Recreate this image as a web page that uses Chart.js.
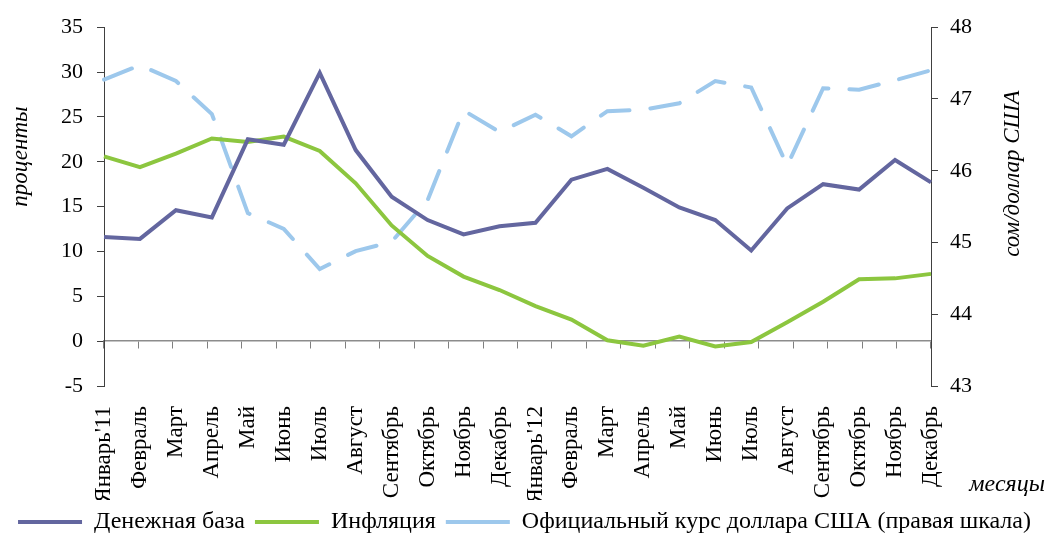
<!DOCTYPE html>
<html>
<head>
<meta charset="utf-8">
<script src="https://cdn.jsdelivr.net/npm/chart.js@4.4.1/dist/chart.umd.min.js"></script>
<style>
  html, body { margin: 0; padding: 0; background: #fff; }
  #wrap { width: 1049px; height: 534px; }
</style>
</head>
<body>
<div id="wrap"><canvas id="chart"></canvas></div>
<script>
// months on the x axis
const months = ["Январь'11", 'Февраль', 'Март', 'Апрель', 'Май', 'Июнь', 'Июль', 'Август', 'Сентябрь', 'Октябрь', 'Ноябрь', 'Декабрь',
  "Январь'12", 'Февраль', 'Март', 'Апрель', 'Май', 'Июнь', 'Июль', 'Август', 'Сентябрь', 'Октябрь', 'Ноябрь', 'Декабрь'];

// percent, left axis
const moneyBase = [11.6, 11.4, 14.6, 13.8, 22.5, 21.9, 29.9, 21.3, 16.1, 13.5, 11.9, 12.8,
  13.2, 18.0, 19.2, 17.1, 14.9, 13.5, 10.1, 14.8, 17.5, 16.9, 20.2, 17.7];
const inflation = [20.6, 19.4, 20.9, 22.6, 22.2, 22.8, 21.2, 17.6, 12.9, 9.5, 7.2, 5.7,
  3.9, 2.4, 0.1, -0.5, 0.5, -0.6, -0.1, 2.1, 4.4, 6.9, 7.0, 7.5];

// som per US dollar, right axis
const usdRate = [47.27, 47.47, 47.25, 46.79, 45.41, 45.19, 44.63, 44.88, 45.01, 45.59, 46.84, 46.54,
  46.78, 46.48, 46.83, 46.85, 46.94, 47.25, 47.16, 46.07, 47.15, 47.13, 47.26, 47.4];

const seriesNames = ['Денежная база', 'Инфляция', 'Официальный курс доллара США (правая шкала)'];
const leftTitle = 'проценты';
const rightTitle = 'сом/доллар США';
const xTitle = 'месяцы';

const serif = '"Liberation Serif", "Times New Roman", serif';
Chart.defaults.font.family = serif;
Chart.defaults.font.size = 22;
Chart.defaults.color = '#000';

// axis titles: right one reads bottom-to-top, x title sits at the far right
const axisTitles = {
  id: 'axisTitles',
  afterDraw(chart) {
    const ctx = chart.ctx;
    const area = chart.chartArea;
    const mid = (area.top + area.bottom) / 2;
    ctx.save();
    ctx.font = 'italic 23px ' + serif;
    ctx.fillStyle = '#000';
    ctx.textAlign = 'center';
    ctx.textBaseline = 'middle';
    ctx.translate(chart.scales.y.left + 21, mid - 50);
    ctx.rotate(-Math.PI / 2);
    ctx.fillText(leftTitle, 0, 0);
    ctx.restore();

    ctx.save();
    ctx.font = 'italic 23px ' + serif;
    ctx.fillStyle = '#000';
    ctx.textAlign = 'center';
    ctx.textBaseline = 'middle';
    ctx.translate(chart.scales.y1.left + 82, mid - 33);
    ctx.rotate(-Math.PI / 2);
    ctx.fillText(rightTitle, 0, 0);
    ctx.restore();

    ctx.save();
    ctx.font = 'italic 24px ' + serif;
    ctx.fillStyle = '#000';
    ctx.textAlign = 'right';
    ctx.textBaseline = 'middle';
    ctx.fillText(xTitle, chart.width - 4, area.bottom + 99);
    ctx.restore();
  }
};

const ctx = document.getElementById('chart').getContext('2d');
const chart = new Chart(ctx, {
  type: 'line',
  data: {
    labels: months,
    datasets: [{
      label: seriesNames[0],
      data: moneyBase,
      borderColor: '#63669f',
      backgroundColor: '#63669f',
      borderWidth: 4,
      pointRadius: 0,
      tension: 0,
      yAxisID: 'y'
    }, {
      label: seriesNames[1],
      data: inflation,
      borderColor: '#8cc63f',
      backgroundColor: '#8cc63f',
      borderWidth: 4,
      pointRadius: 0,
      tension: 0,
      yAxisID: 'y'
    }, {
      label: seriesNames[2],
      data: usdRate,
      borderColor: '#9dc8ec',
      backgroundColor: '#9dc8ec',
      borderWidth: 4,
      borderDash: [30, 21],
      borderCapStyle: 'round',
      pointRadius: 0,
      tension: 0,
      yAxisID: 'y1'
    }]
  },
  options: {
    responsive: true,
    maintainAspectRatio: false,
    animation: false,
    layout: { padding: { top: 12, left: 0, right: 0, bottom: -10 } },
    scales: {
      x: {
        type: 'category',
        position: 'bottom',
        grid: { display: false },
        border: { display: false },
        ticks: { minRotation: 90, maxRotation: 90, padding: 12, autoSkip: false, font: { size: 23 } },
        afterFit: (scale) => { scale.height = 114; }
      },
      xZero: {
        type: 'category',
        position: { y: 0 },
        offset: true,
        grid: { offset: true, drawOnChartArea: false, drawTicks: true, tickLength: 7, color: '#7f7f7f', lineWidth: 1 },
        border: { display: true, color: '#8c8c8c', width: 1.5 },
        ticks: { display: true, callback: () => '', padding: 0, font: { size: 1 } }
      },
      y: {
        position: 'left',
        min: -5,
        max: 35,
        ticks: { stepSize: 5, padding: 14, font: { size: 22 } },
        grid: { drawOnChartArea: false, tickLength: 7, color: '#404040' },
        border: { display: true, color: '#404040', width: 1 },
        afterFit: (scale) => { scale.width = 104; }
      },
      y1: {
        position: 'right',
        min: 43,
        max: 48,
        ticks: { stepSize: 1, padding: 12, font: { size: 22 } },
        grid: { drawOnChartArea: false, tickLength: 7, color: '#404040' },
        border: { display: true, color: '#404040', width: 1 },
        afterFit: (scale) => { scale.width = 118; }
      }
    },
    plugins: {
      legend: {
        position: 'bottom',
        labels: {
          usePointStyle: true,
          pointStyle: 'line',
          pointStyleWidth: 64,
          padding: 10,
          font: { size: 24 },
          color: '#000'
        }
      },
      tooltip: { enabled: false }
    }
  },
  plugins: [axisTitles]
});
</script>
</body>
</html>
